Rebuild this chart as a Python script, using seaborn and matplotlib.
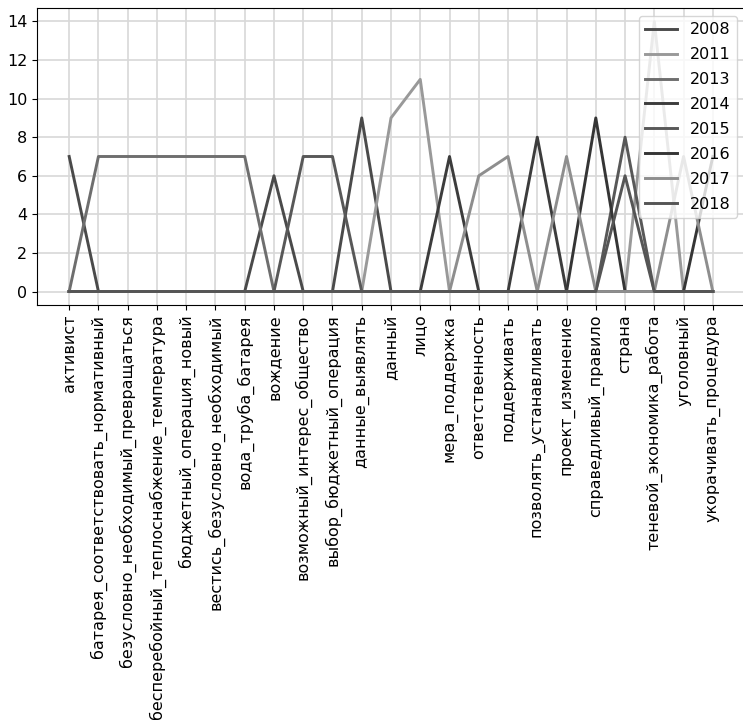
import pandas as pd
import matplotlib
matplotlib.use('Agg')
import matplotlib.pyplot as plt
import seaborn as sns

terms = [
    'активист',
    'батарея_соответствовать_нормативный',
    'безусловно_необходимый_превращаться',
    'бесперебойный_теплоснабжение_температура',
    'бюджетный_операция_новый',
    'вестись_безусловно_необходимый',
    'вода_труба_батарея',
    'вождение',
    'возможный_интерес_общество',
    'выбор_бюджетный_операция',
    'данные_выявлять',
    'данный',
    'лицо',
    'мера_поддержка',
    'ответственность',
    'поддерживать',
    'позволять_устанавливать',
    'проект_изменение',
    'справедливый_правило',
    'страна',
    'теневой_экономика_работа',
    'уголовный',
    'укорачивать_процедура',
]

years = ['2008', '2011', '2013', '2014', '2015', '2016', '2017', '2018']

counts_2008 = [7, 0, 0, 0, 0, 0, 0, 6, 0, 0, 9, 0, 0, 0, 0, 0, 0, 0, 0, 0, 0, 0, 0]
counts_2011 = [0, 0, 0, 0, 0, 0, 0, 0, 0, 0, 0, 9, 11, 0, 0, 0, 0, 0, 0, 0, 14, 0, 0]
counts_2013 = [0, 7, 7, 7, 7, 7, 7, 0, 0, 0, 0, 0, 0, 0, 0, 0, 0, 0, 0, 0, 0, 0, 0]
counts_2014 = [0, 0, 0, 0, 0, 0, 0, 0, 0, 0, 0, 0, 0, 7, 0, 0, 8, 0, 0, 0, 0, 0, 0]
counts_2015 = [0, 0, 0, 0, 0, 0, 0, 0, 7, 7, 0, 0, 0, 0, 0, 0, 0, 0, 0, 8, 0, 0, 0]
counts_2016 = [0, 0, 0, 0, 0, 0, 0, 0, 0, 0, 0, 0, 0, 0, 0, 0, 0, 0, 9, 0, 0, 0, 7]
counts_2017 = [0, 0, 0, 0, 0, 0, 0, 0, 0, 0, 0, 0, 0, 0, 6, 7, 0, 7, 0, 0, 0, 7, 0]
counts_2018 = [0, 0, 0, 0, 0, 0, 0, 0, 0, 0, 0, 0, 0, 0, 0, 0, 0, 0, 0, 6, 0, 0, 0]

all_counts = [counts_2008, counts_2011, counts_2013, counts_2014,
              counts_2015, counts_2016, counts_2017, counts_2018]

gray_palette = {
    '2008': '#4a4a4a', '2011': '#999999', '2013': '#6e6e6e', '2014': '#3c3c3c',
    '2015': '#585858', '2016': '#353535', '2017': '#8e8e8e', '2018': '#555555',
}

rows = []
for year, counts in zip(years, all_counts):
    for term, c in zip(terms, counts):
        rows.append({'term': term, 'year': year, 'count': c})
df = pd.DataFrame(rows)

plt.rcParams['font.family'] = ['DejaVu Sans']
plt.rcParams['font.size'] = 11.5

fig = plt.figure(figsize=(7.43, 7.26), dpi=100)
# axes run a little past the right edge, as in the cropped original
ax = fig.add_axes([37 / 743, 1 - 305 / 726, 708 / 743, 297 / 726])

sns.lineplot(data=df, x='term', y='count', hue='year', palette=gray_palette,
             sort=False, linewidth=2.1, ax=ax)

ax.grid(True, color='#d8d8d8', linewidth=1.2)
ax.set_axisbelow(True)
ax.set_xlabel('')
ax.set_ylabel('')
ax.set_yticks(range(0, 15, 2))
ax.tick_params(axis='x', rotation=90)

handles, labels = ax.get_legend_handles_labels()
ax.legend(handles, labels, loc='upper right', fontsize=11.5,
          labelspacing=0.62, handlelength=2.0, handletextpad=0.8)

plt.savefig('out.png', dpi=100)
